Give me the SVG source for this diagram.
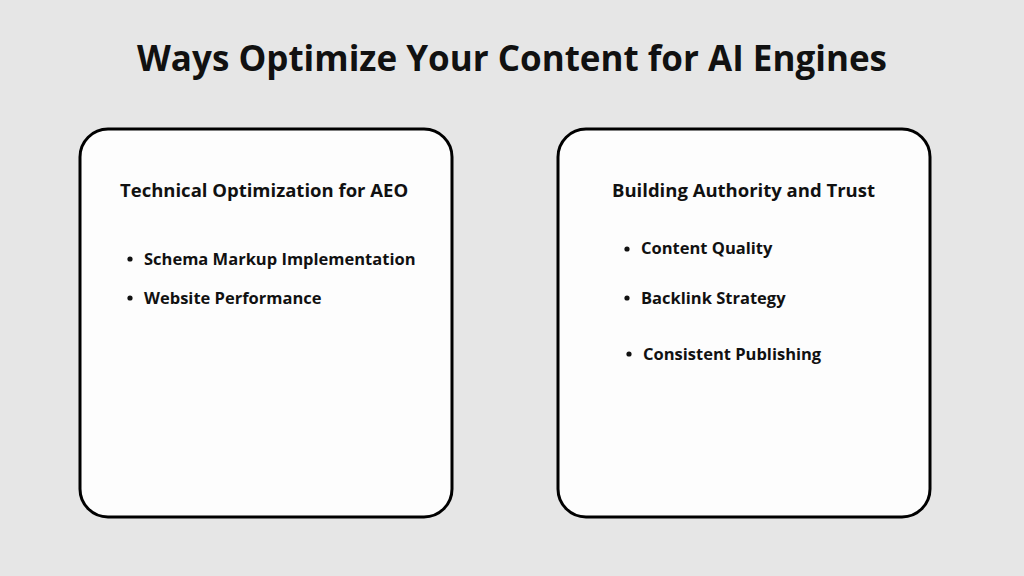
<svg xmlns="http://www.w3.org/2000/svg" width="1024" height="576" viewBox="0 0 1024 576">
<style>
text{font-family:"Open Sans","Noto Sans",sans-serif;font-weight:700;fill:#111}
.box{fill:#fdfdfd;stroke:#000;stroke-width:3}
.h{font-size:18.5px}
.b{font-size:16.5px}
</style>
<rect width="1024" height="576" fill="#e6e6e6"/>
<text x="512" y="71" text-anchor="middle" font-size="35">Ways Optimize Your Content for AI Engines</text>
<g id="left">
<rect class="box" x="80" y="129" width="372" height="388" rx="28"/>
<text class="h" x="120" y="197">Technical Optimization for AEO</text>
<circle cx="130" cy="259" r="2.6" fill="#111"/>
<text class="b" x="144" y="265">Schema Markup Implementation</text>
<circle cx="130" cy="298" r="2.6" fill="#111"/>
<text class="b" x="144" y="304">Website Performance</text>
</g>
<g id="right">
<rect class="box" x="558" y="129" width="372" height="388" rx="28"/>
<text class="h" x="612" y="197">Building Authority and Trust</text>
<circle cx="627" cy="249" r="2.6" fill="#111"/>
<text class="b" x="641" y="254">Content Quality</text>
<circle cx="627" cy="298" r="2.6" fill="#111"/>
<text class="b" x="641" y="304">Backlink Strategy</text>
<circle cx="629" cy="354" r="2.6" fill="#111"/>
<text class="b" x="643" y="360">Consistent Publishing</text>
</g>
<g id="connectors"/>
</svg>
